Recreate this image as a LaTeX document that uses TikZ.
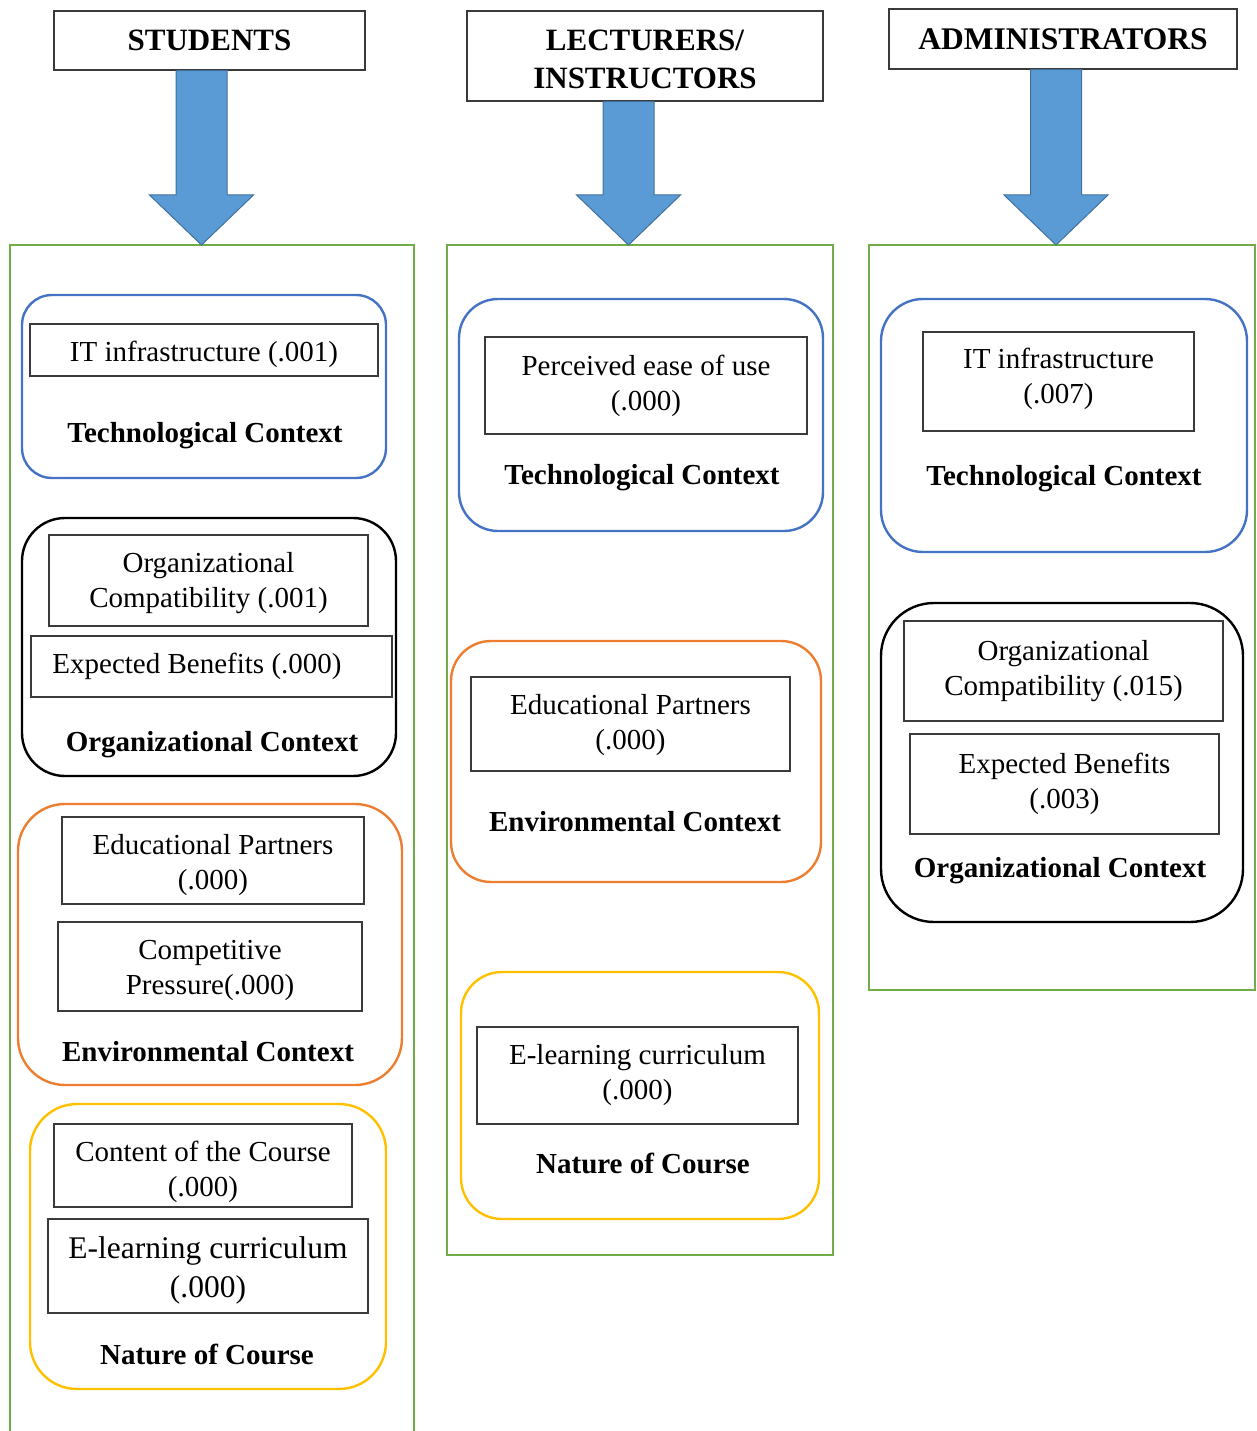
\documentclass[tikz,border=0pt]{standalone}
\usepackage{fontspec}
\setmainfont{Liberation Serif}
\usetikzlibrary{calc}

\definecolor{colgreen}{HTML}{70AD47}
\definecolor{techblue}{HTML}{4472C4}
\definecolor{envorange}{HTML}{ED7D31}
\definecolor{courseyellow}{HTML}{FFC000}
\definecolor{arrowfill}{HTML}{5B9BD5}
\definecolor{arrowline}{HTML}{41719C}
\definecolor{boxgray}{HTML}{3A3A3A}

\tikzset{
  column/.style={draw=colgreen, line width=2pt},
  arr/.style={fill=arrowfill, draw=arrowline, line width=1pt, line join=miter},
  head/.style={draw=boxgray, line width=1.5pt, fill=white, inner sep=0pt},
  headtext/.style={inner sep=0pt, align=center, font=\fontsize{31}{38}\selectfont\bfseries},
  item/.style={draw=boxgray, line width=1.4pt, inner sep=0pt},
  itemtext/.style={inner sep=0pt, align=center, font=\fontsize{29}{35}\selectfont},
  grp/.style={line width=2.4pt, inner sep=0pt},
  ctx/.style={inner sep=0pt, font=\fontsize{29}{35}\selectfont\bfseries}
}

% boxed factor: [text options], name, x1, y1, x2, y2, text
\newcommand\ibox[7][]{%
  \node[item,minimum width={(#5-#3)*1pt},minimum height={(#6-#4)*1pt}] (#2) at ({(#3+#5)/2},{(#4+#6)/2}) {};
  \node[itemtext,#1] (#2-t) at (#2.center) {#7};}
% rounded context frame: style, name, x1, y1, x2, y2, corner radius
\newcommand\gbox[7]{\node[grp,#1,rounded corners=#7pt,minimum width={(#5-#3)*1pt},minimum height={(#6-#4)*1pt}] (#2) at ({(#3+#5)/2},{(#4+#6)/2}) {};}
% block arrow from a header down to a tip coordinate
\newcommand\blockarrow[2]{\path[arr] let \p1=(#1.south), \p2=(#2) in
  ({\x2-25.5pt},{\y1}) -- ({\x2+25.5pt},{\y1}) -- ({\x2+25.5pt},{\y2+50pt}) --
  ({\x2+52pt},{\y2+50pt}) -- ({\x2},{\y2}) -- ({\x2-52pt},{\y2+50pt}) --
  ({\x2-25.5pt},{\y2+50pt}) -- cycle;}

\begin{document}
\begin{tikzpicture}[x=1pt,y=-1pt]
\useasboundingbox (0,0) rectangle (1257,1431);

% green group columns
\draw[column] (10,1445) -- (10,245) -- (414,245) -- (414,1445);
\draw[column] (447,245) rectangle (833,1255);
\draw[column] (869,245) rectangle (1255,990);

\coordinate (tipS) at (201.5,245);
\coordinate (tipL) at (628.5,245);
\coordinate (tipA) at (1056,245);

% headers
\node[head,minimum width=311pt,minimum height=59pt] (hS) at (209.5,40.5) {};
\node[headtext] at (hS.center) {STUDENTS};
\node[head,minimum width=356pt,minimum height=90pt] (hL) at (645,56) {};
\node[headtext,yshift=-3pt] at (hL.center) {LECTURERS/\\INSTRUCTORS};
\node[head,minimum width=348pt,minimum height=60pt] (hA) at (1063,39) {};
\node[headtext,font=\fontsize{31.5}{38}\selectfont\bfseries] at (hA.center) {ADMINISTRATORS};

\blockarrow{hS}{tipS}
\blockarrow{hL}{tipL}
\blockarrow{hA}{tipA}

% ---- students ----
\gbox{draw=techblue}{sTech}{22}{295}{386}{478}{30}
\ibox[yshift=-4pt]{sIT}{30}{324}{378}{376}{IT infrastructure (.001)}
\node[ctx] (sTechL) at (205,436) {Technological Context};

\gbox{draw=black}{sOrg}{22}{518}{396}{776}{43}
\ibox[yshift=-3pt]{sOC}{49}{535}{368}{626}{Organizational\\Compatibility (.001)}
\ibox[xshift=-14.5pt]{sEB}{31}{636}{392}{697}{Expected Benefits (.000)}
\node[ctx] (sOrgL) at (212,745) {Organizational Context};

\gbox{draw=envorange}{sEnv}{18}{804}{402}{1085}{47}
\ibox[yshift=-5pt]{sEP}{62}{817}{364}{904}{Educational Partners\\(.000)}
\ibox[yshift=-4pt]{sCP}{58}{922}{362}{1011}{Competitive\\Pressure(.000)}
\node[ctx] (sEnvL) at (208,1052) {Environmental Context};

\gbox{draw=courseyellow}{sNat}{30}{1104}{386}{1389}{47}
\ibox[yshift=-6pt]{sCC}{54}{1124}{352}{1207}{Content of the Course\\(.000)}
\ibox[yshift=-4pt,font=\fontsize{31.5}{39}\selectfont]{sEL}{48}{1219}{368}{1313}{E-learning curriculum\\(.000)}
\node[ctx] (sNatL) at (207,1354) {Nature of Course};

% ---- lecturers / instructors ----
\gbox{draw=techblue}{lTech}{459}{299}{823}{531}{39}
\ibox{lPE}{485}{337}{807}{434}{Perceived ease of use\\(.000)}
\node[ctx] (lTechL) at (642,478) {Technological Context};

\gbox{draw=envorange}{lEnv}{451}{641}{821}{882}{40}
\ibox[yshift=-1pt]{lEP}{471}{677}{790}{771}{Educational Partners\\(.000)}
\node[ctx] (lEnvL) at (635,822) {Environmental Context};

\gbox{draw=courseyellow}{lNat}{461}{972}{819}{1219}{41}
\ibox{lEL}{477}{1027}{798}{1124}{E-learning curriculum\\(.000)}
\node[ctx] (lNatL) at (643,1163) {Nature of Course};

% ---- administrators ----
\gbox{draw=techblue}{aTech}{881}{299}{1247}{552}{42}
\ibox[yshift=3pt]{aIT}{923}{332}{1194}{431}{IT infrastructure\\(.007)}
\node[ctx] (aTechL) at (1064,479) {Technological Context};

\gbox{draw=black}{aOrg}{881}{603}{1243}{922}{53}
\ibox{aOC}{904}{621}{1223}{721}{Organizational\\Compatibility (.015)}
\ibox{aEB}{910}{734}{1219}{834}{Expected Benefits\\(.003)}
\node[ctx] (aOrgL) at (1060,871) {Organizational Context};

\end{tikzpicture}
\end{document}
